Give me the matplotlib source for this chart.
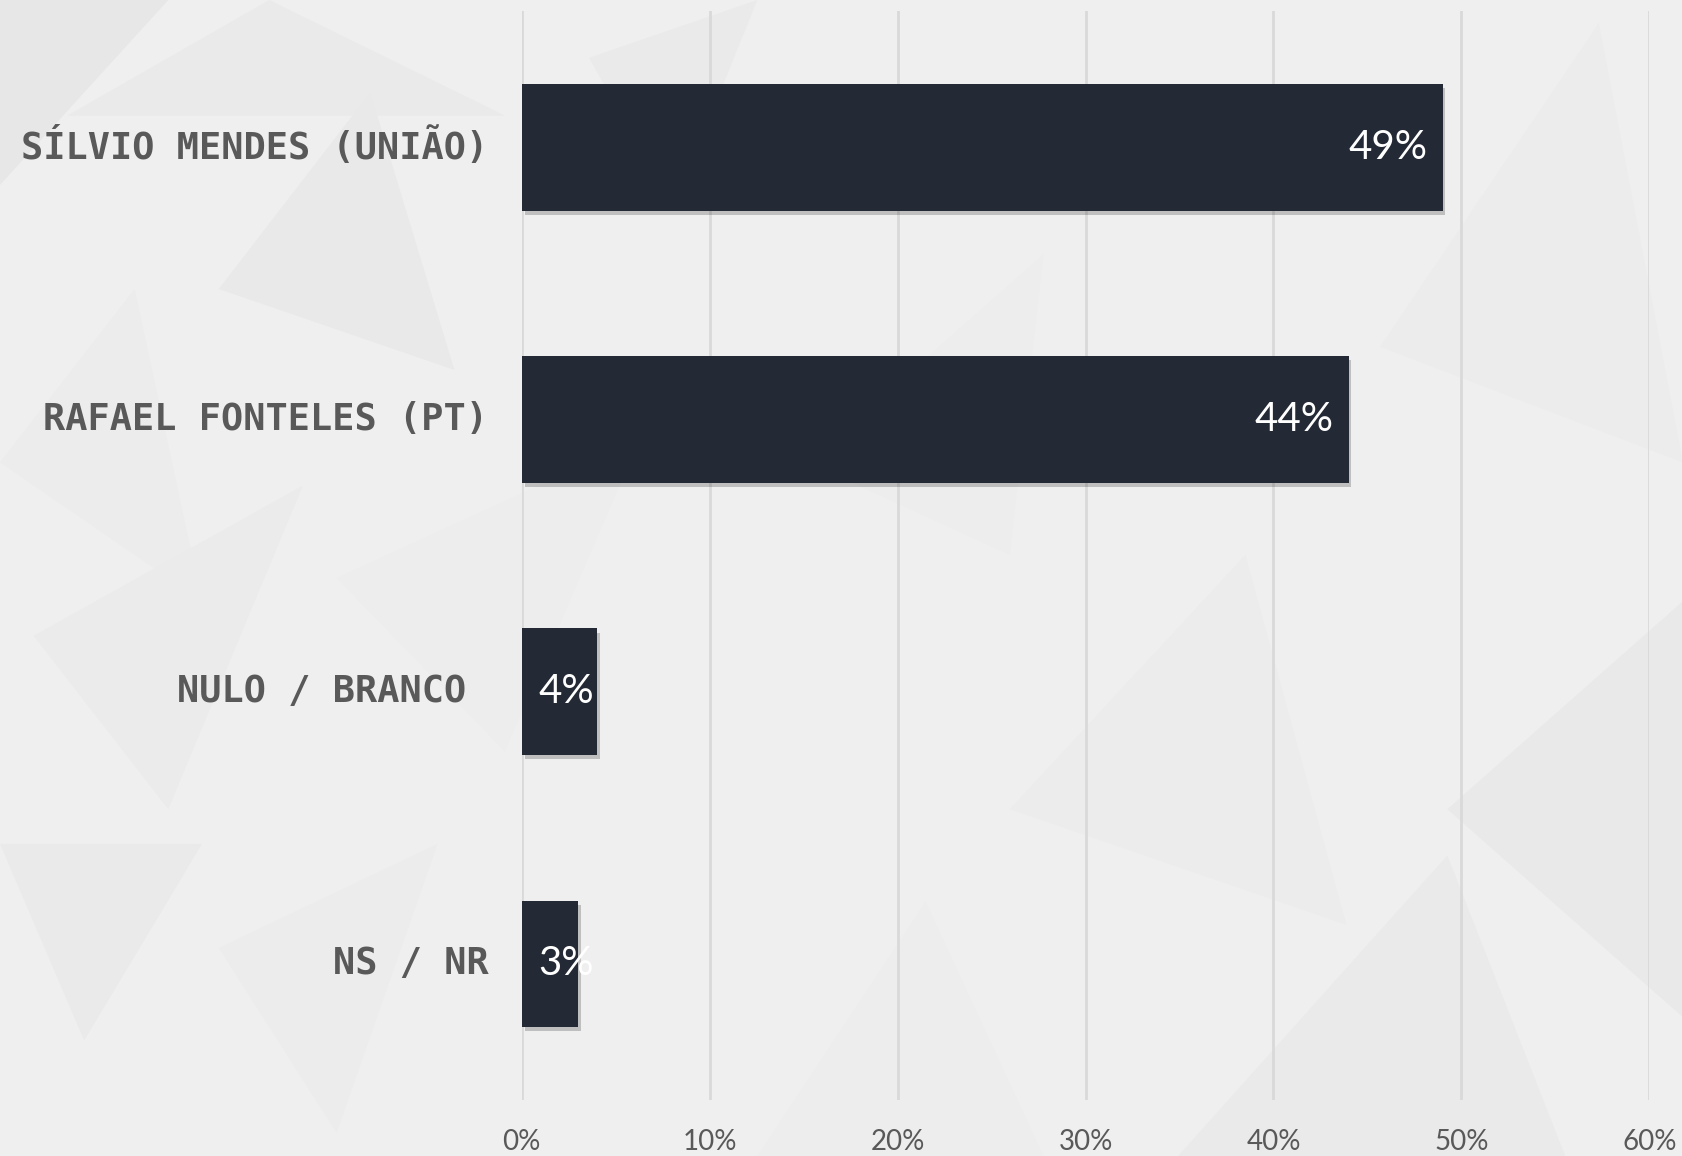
import matplotlib.pyplot as plt
import matplotlib.patheffects as pe
from matplotlib.patches import Polygon
from matplotlib.ticker import FuncFormatter

# --- DATA ---
candidates = ["SÍLVIO MENDES (UNIÃO)", "RAFAEL FONTELES (PT)", "NULO / BRANCO ", "NS / NR"]
values = [49, 44, 4, 3]
x_ticks = [0, 10, 20, 30, 40, 50, 60]
# ------------

BAR_COLOR = "#232a36"
TEXT_GRAY = "#595959"
BG = "#efefef"

fig = plt.figure(figsize=(16.83, 11.56), dpi=100)
fig.patch.set_facecolor(BG)

# faint low-poly background, like the original slide
shapes = [
    ([(0.00, 1.00), (0.10, 1.00), (0.00, 0.84)], "#e7e7e7"),
    ([(0.04, 0.90), (0.16, 1.00), (0.30, 0.90)], "#eaeaea"),
    ([(0.13, 0.75), (0.22, 0.92), (0.27, 0.68)], "#e9e9e9"),
    ([(0.00, 0.60), (0.08, 0.75), (0.12, 0.48)], "#ececec"),
    ([(0.02, 0.45), (0.18, 0.58), (0.10, 0.30)], "#ebebeb"),
    ([(0.20, 0.50), (0.38, 0.62), (0.30, 0.35)], "#ededed"),
    ([(0.00, 0.27), (0.12, 0.27), (0.05, 0.10)], "#eaeaea"),
    ([(0.13, 0.18), (0.26, 0.27), (0.20, 0.02)], "#ececec"),
    ([(0.45, 0.00), (0.62, 0.00), (0.55, 0.22)], "#ededed"),
    ([(0.60, 0.30), (0.74, 0.52), (0.80, 0.20)], "#ececec"),
    ([(0.70, 0.00), (0.86, 0.26), (0.93, 0.00)], "#eaeaea"),
    ([(0.82, 0.70), (0.95, 0.98), (1.00, 0.60)], "#ececec"),
    ([(0.86, 0.30), (1.00, 0.48), (1.00, 0.12)], "#e9e9e9"),
    ([(0.48, 0.60), (0.62, 0.78), (0.60, 0.52)], "#ededed"),
    ([(0.35, 0.95), (0.45, 1.00), (0.40, 0.82)], "#eaeaea"),
]
for pts, col in shapes:
    fig.patches.append(Polygon(pts, closed=True, transform=fig.transFigure,
                               facecolor=col, edgecolor="none", zorder=-10))

ax = fig.add_axes([0.310, 0.0484, 0.670, 0.942])
ax.set_facecolor("none")

y = list(range(len(candidates)))
bars = ax.barh(y, values, height=0.465, color=BAR_COLOR, zorder=3)
for b in bars:
    b.set_path_effects([pe.SimplePatchShadow(offset=(2, -3), shadow_rgbFace="#000000", alpha=0.2),
                        pe.Normal()])

ax.set_xlim(0, 60)
ax.set_ylim(len(candidates) - 0.5, -0.5)
ax.set_xticks(x_ticks)
ax.xaxis.set_major_formatter(FuncFormatter(lambda v, p: f"{v:.0f}%"))
ax.grid(axis="x", color="#d9d9d9", linewidth=2, zorder=0)
ax.grid(axis="y", visible=False)
for s in ax.spines.values():
    s.set_visible(False)

ax.tick_params(axis="x", length=0, pad=21, labelsize=20, labelcolor=TEXT_GRAY)
ax.tick_params(axis="y", length=0, pad=24)
for lbl in ax.get_xticklabels():
    lbl.set_fontfamily(["Lato", "DejaVu Sans"])

ax.set_yticks(y)
ax.set_yticklabels(candidates, fontfamily="DejaVu Sans Mono", fontweight="bold",
                   fontsize=26.6, color=TEXT_GRAY, va="center")

# value labels: inside end, but kept off the bar start when the bar is short
for yi, v in zip(y, values):
    if v >= 10:
        ax.annotate(f"{v}%", (v, yi), xytext=(-11, 0), textcoords="offset points",
                    ha="right", va="center", color="white", fontsize=29,
                    fontfamily=["Lato", "DejaVu Sans"], zorder=5)
    else:
        ax.annotate(f"{v}%", (0, yi), xytext=(12, 0), textcoords="offset points",
                    ha="left", va="center", color="white", fontsize=29,
                    fontfamily=["Lato", "DejaVu Sans"], zorder=5)

plt.savefig("out.png", dpi=100, facecolor=fig.get_facecolor())
plt.close()
